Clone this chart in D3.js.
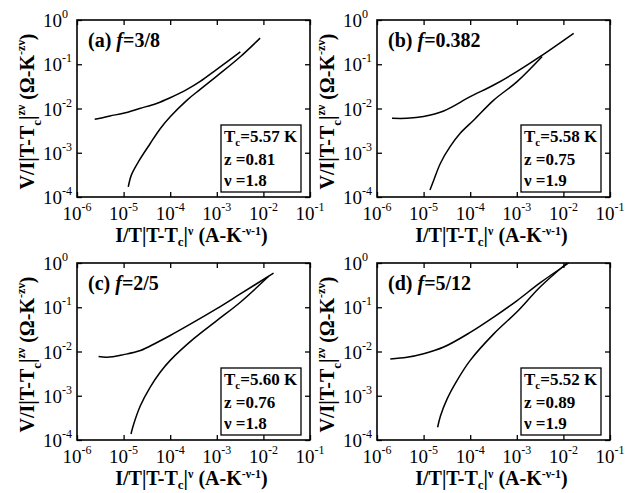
<!DOCTYPE html>
<meta charset="utf-8">
<script src="https://d3js.org/d3.v7.min.js"></script>
<style>
  body { margin: 0; background: #fff; }
</style>
<div id="chart"></div>
<script>

// axis ticks (decades)
var xTicks = [1e-6, 1e-5, 1e-4, 1e-3, 1e-2, 1e-1];
var yTicks = [1e-4, 1e-3, 1e-2, 1e-1, 1];
var xExp = ["-6", "-5", "-4", "-3", "-2", "-1"];
var yExp = ["-4", "-3", "-2", "-1", "0"];

// [x, y] points, upper (flat) and lower (steep) branch
var aUpper = [[2.4e-6, 5.7e-3], [3.1e-6, 6.0e-3], [5.1e-6, 6.8e-3], [9.9e-6, 7.8e-3], [2.2e-5, 1.0e-2],
  [5.1e-5, 1.3e-2], [1e-4, 1.75e-2], [2.3e-4, 2.7e-2], [4.4e-4, 4.1e-2], [1e-3, 7.7e-2], [3.2e-3, 0.19]];
var aLower = [[1.26e-5, 1.7e-4], [1.48e-5, 3.2e-4], [2.2e-5, 6.9e-4], [3.7e-5, 1.6e-3], [6.1e-5, 3.5e-3],
  [1e-4, 6.5e-3], [2.3e-4, 1.55e-2], [4.4e-4, 2.7e-2], [1e-3, 5.4e-2], [3.2e-3, 0.148], [8.5e-3, 0.39]];

var bUpper = [[2.1e-6, 6.0e-3], [4.4e-6, 6.0e-3], [1e-5, 6.6e-3], [2.7e-5, 8.8e-3], [1e-4, 1.85e-2],
  [3.2e-4, 3.4e-2], [1e-3, 6.8e-2], [3.2e-3, 0.15], [1.66e-2, 0.50]];
var bLower = [[1.37e-5, 1.44e-4], [1.65e-5, 2.4e-4], [2.3e-5, 5.8e-4], [3.7e-5, 1.37e-3], [6.1e-5, 2.75e-3],
  [1.2e-4, 5.5e-3], [3.2e-4, 1.55e-2], [1e-3, 4.0e-2], [3.5e-3, 0.15]];

var cUpper = [[2.9e-6, 7.7e-3], [4.4e-6, 7.4e-3], [1e-5, 8.5e-3], [2.3e-5, 1.05e-2], [5.2e-5, 1.6e-2],
  [1e-4, 2.3e-2], [3.2e-4, 4.6e-2], [1e-3, 9.3e-2], [3.2e-3, 0.20], [1.65e-2, 0.59]];
var cLower = [[1.44e-5, 1.37e-4], [1.65e-5, 2.3e-4], [2.3e-5, 6.0e-4], [3.7e-5, 1.55e-3], [6.1e-5, 3.4e-3],
  [1e-4, 6.3e-3], [3.2e-4, 1.95e-2], [1e-3, 5.0e-2], [3.2e-3, 0.13], [1.3e-2, 0.5]];

var dUpper = [[1.93e-6, 6.8e-3], [4.4e-6, 7.4e-3], [1e-5, 8.9e-3], [2.7e-5, 1.26e-2], [1e-4, 2.7e-2],
  [3.2e-4, 6.0e-2], [1e-3, 0.14], [3.2e-3, 0.36], [1.3e-2, 1.0]];
var dLower = [[2.0e-5, 1.94e-4], [2.3e-5, 3.5e-4], [3.2e-5, 8.5e-4], [5.2e-5, 2.2e-3], [1e-4, 6.3e-3],
  [3.2e-4, 2.5e-2], [1e-3, 7.8e-2], [3.2e-3, 0.29], [1.2e-2, 1.0]];

var panelLetters = ["(a) ", "(b) ", "(c) ", "(d) "];
var panelF = ["=3/8", "=0.382", "=2/5", "=5/12"];
var tcVals = ["=5.57 K", "=5.58 K", "=5.60 K", "=5.52 K"];
var zVals = ["z =0.81", "z =0.75", "z =0.76", "z =0.89"];
var nuVals = ["\u03bd =1.8", "\u03bd =1.9", "\u03bd =1.8", "\u03bd =1.9"];
var curves = [[aUpper, aLower], [bUpper, bLower], [cUpper, cLower], [dUpper, dLower]];

var W = 641, H = 493;
var pw = 233, ph = 177;
var origins = [[77, 20], [377, 20], [77, 263], [377, 263]];
var serif = "'Liberation Serif', 'Times New Roman', Times, 'DejaVu Serif', serif";

var svg = d3.select("#chart").append("svg")
  .attr("width", W).attr("height", H)
  .attr("font-family", serif);

var x = d3.scaleLog().domain([1e-6, 1e-1]).range([0, pw]);
var y = d3.scaleLog().domain([1e-4, 1]).range([ph, 0]);

var line = d3.line()
  .x(function(d) { return x(d[0]); })
  .y(function(d) { return y(d[1]); })
  .curve(d3.curveCatmullRom.alpha(0.5));

origins.forEach(function(o, i) {
  var g = svg.append("g").attr("transform", "translate(" + o[0] + "," + o[1] + ")");

  // inward ticks on all four sides
  var axes = [
    [d3.axisBottom(x).tickValues(xTicks), "translate(0," + ph + ")"],
    [d3.axisTop(x).tickValues(xTicks), "translate(0,0)"],
    [d3.axisLeft(y).tickValues(yTicks), "translate(0,0)"],
    [d3.axisRight(y).tickValues(yTicks), "translate(" + pw + ",0)"]
  ];
  axes.forEach(function(a) {
    var ag = g.append("g").attr("transform", a[1])
      .call(a[0].tickSize(-5).tickSizeOuter(0).tickFormat(""));
    ag.select(".domain").remove();
    ag.selectAll("line").attr("stroke", "#000").attr("stroke-width", 1.3);
  });

  g.append("rect").attr("width", pw).attr("height", ph)
    .attr("fill", "none").attr("stroke", "#000").attr("stroke-width", 1.6);

  // curves
  curves[i].forEach(function(c) {
    g.append("path").datum(c).attr("d", line)
      .attr("fill", "none").attr("stroke", "#000").attr("stroke-width", 1.5);
  });

  // x tick labels
  xTicks.forEach(function(t, k) {
    var tx = g.append("text").attr("x", x(t)).attr("y", ph + 23)
      .attr("text-anchor", "middle").attr("font-size", 19);
    tx.append("tspan").text("10");
    tx.append("tspan").attr("dy", -9).attr("font-size", 12).text(xExp[k]);
  });

  // y tick labels
  yTicks.forEach(function(t, k) {
    var ty = g.append("text").attr("x", -34).attr("y", y(t) + 7)
      .attr("font-size", 19);
    ty.append("tspan").text("10");
    ty.append("tspan").attr("dy", -9).attr("font-size", 12).text(yExp[k]);
  });

  // x axis title
  var xl = g.append("text").attr("x", pw / 2 - 2).attr("y", ph + 45)
    .attr("text-anchor", "middle").attr("font-size", 20).attr("font-weight", "bold");
  xl.append("tspan").text("I/T|T-T");
  xl.append("tspan").attr("dy", 4).attr("font-size", 13).text("c");
  xl.append("tspan").attr("dy", -4).text("|");
  xl.append("tspan").attr("dy", -7).attr("font-size", 12).text("\u03bd");
  xl.append("tspan").attr("dy", 7).text(" (A-K");
  xl.append("tspan").attr("dy", -7).attr("font-size", 12).text("-\u03bd-1");
  xl.append("tspan").attr("dy", 7).text(")");

  // y axis title
  var yl = g.append("text").attr("transform", "translate(-43," + (ph / 2 + 3) + ") rotate(-90)")
    .attr("text-anchor", "middle").attr("font-size", 20).attr("font-weight", "bold");
  yl.append("tspan").text("V/I|T-T");
  yl.append("tspan").attr("dy", 7).attr("font-size", 13).text("c");
  yl.append("tspan").attr("dy", -7).text("|");
  yl.append("tspan").attr("dy", -9).attr("font-size", 12).text("z\u03bd");
  yl.append("tspan").attr("dy", 9).text(" (\u03a9-K");
  yl.append("tspan").attr("dy", -9).attr("font-size", 12).text("-z\u03bd");
  yl.append("tspan").attr("dy", 9).text(")");

  // panel label
  var pl = g.append("text").attr("x", 11).attr("y", 27)
    .attr("font-size", 20).attr("font-weight", "bold");
  pl.append("tspan").text(panelLetters[i]);
  pl.append("tspan").attr("font-style", "italic").text("f");
  pl.append("tspan").text(panelF[i]);

  // parameter box
  var bx = pw - 89, by = ph - 72;
  g.append("rect").attr("x", bx).attr("y", by).attr("width", 80).attr("height", 67)
    .attr("fill", "#fff").attr("stroke", "#000").attr("stroke-width", 1.3);
  var t1 = g.append("text").attr("x", bx + 3).attr("y", by + 17)
    .attr("font-size", 17).attr("font-weight", "bold");
  t1.append("tspan").text("T");
  t1.append("tspan").attr("dy", 4).attr("font-size", 11).text("c");
  t1.append("tspan").attr("dy", -4).text(tcVals[i]);
  g.append("text").attr("x", bx + 3).attr("y", by + 40)
    .attr("font-size", 17).attr("font-weight", "bold").text(zVals[i]);
  g.append("text").attr("x", bx + 3).attr("y", by + 61)
    .attr("font-size", 17).attr("font-weight", "bold").text(nuVals[i]);
});

</script>
